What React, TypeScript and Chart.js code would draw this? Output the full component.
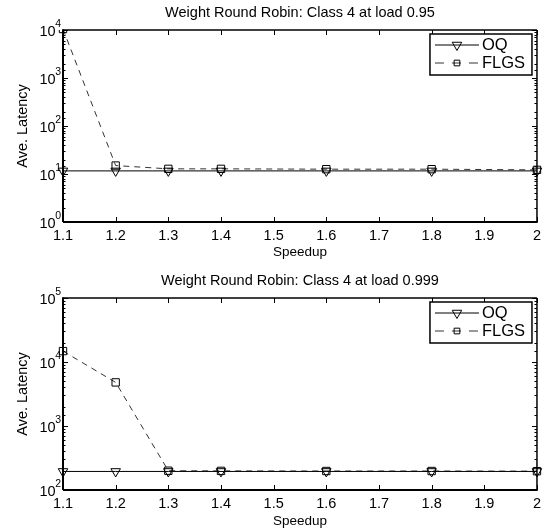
import React, { useEffect, useRef } from 'react';
import { Chart, registerables } from 'chart.js';

Chart.register(...registerables);

// ---------------- data ----------------
const speedup = [1.1, 1.2, 1.3, 1.4, 1.6, 1.8, 2.0];
const oqLoad095 = [11.6, 11.6, 11.6, 11.6, 11.6, 11.6, 11.6];
const flgsLoad095 = [10500, 15, 12.8, 12.8, 12.6, 12.6, 12.2];
const oqLoad0999 = [195, 195, 195, 195, 195, 195, 195];
const flgsLoad0999 = [14800, 4800, 200, 199, 198, 198, 197];
const seriesNames = ['OQ', 'FLGS'];
const panelTitles = [
  'Weight Round Robin: Class 4 at load 0.95',
  'Weight Round Robin: Class 4 at load 0.999',
];
const xAxisTitle = 'Speedup';
const yAxisTitle = 'Ave. Latency';
const xMin = 1.1;
const xMax = 2;
const xStep = 0.1;
const yMinTop = 1;
const yMaxTop = 1e4;
const yMinBottom = 1e2;
const yMaxBottom = 1e5;

const FONT = '"Liberation Sans", Arial, Helvetica, sans-serif';
const TITLE_SIZE = 14.5;
const XTITLE_SIZE = 13.5;
const YTITLE_SIZE = 14.5;
const TICK_SIZE = 14.5;
const EXP_SIZE = 10.5;
const LEGEND_SIZE = 16.5;

type PanelSpec = {
  top: number;
  height: number;
  axesTop: number;
  axesBottom: number;
  titleY: number;
  xTitleY: number;
  title: string;
  oq: number[];
  flgs: number[];
  yMin: number;
  yMax: number;
};

const panels: PanelSpec[] = [
  {
    top: 0, height: 264, axesTop: 30, axesBottom: 222, titleY: 13, xTitleY: 252.7,
    title: panelTitles[0], oq: oqLoad095, flgs: flgsLoad095, yMin: yMinTop, yMax: yMaxTop,
  },
  {
    top: 264, height: 265, axesTop: 34, axesBottom: 226, titleY: 17, xTitleY: 257,
    title: panelTitles[1], oq: oqLoad0999, flgs: flgsLoad0999, yMin: yMinBottom, yMax: yMaxBottom,
  },
];

function isDecade(v: number) {
  const l = Math.log10(v);
  return Math.abs(l - Math.round(l)) < 1e-9;
}

function drawMarker(ctx: CanvasRenderingContext2D, kind: string, x: number, y: number, r: number) {
  ctx.beginPath();
  if (kind === 'triangle') {
    ctx.moveTo(x - r * 0.866, y - r * 0.5);
    ctx.lineTo(x + r * 0.866, y - r * 0.5);
    ctx.lineTo(x, y + r);
    ctx.closePath();
  } else {
    const s = r * 0.7071;
    ctx.rect(x - s, y - s, 2 * s, 2 * s);
  }
  ctx.stroke();
}

// MATLAB-like box, inward ticks and 10^n tick labels with real superscripts
const axesPlugin = {
  id: 'matlabAxes',
  afterDraw(chart: any) {
    const { ctx, chartArea, scales } = chart;
    const { left, right, top, bottom } = chartArea;
    const x = scales.x;
    const y = scales.y;
    ctx.save();
    ctx.strokeStyle = '#000';
    ctx.lineWidth = 1;
    ctx.setLineDash([]);
    const seg = (x1: number, y1: number, x2: number, y2: number) => {
      ctx.beginPath();
      ctx.moveTo(x1, y1);
      ctx.lineTo(x2, y2);
      ctx.stroke();
    };
    for (const t of x.ticks) {
      const px = Math.round(x.getPixelForValue(t.value)) + 0.5;
      seg(px, bottom, px, bottom - 5);
      seg(px, top, px, top + 5);
    }
    ctx.fillStyle = '#000';
    ctx.textBaseline = 'middle';
    for (const t of y.ticks) {
      const py = Math.round(y.getPixelForValue(t.value)) + 0.5;
      const major = isDecade(t.value);
      const len = major ? 5 : 2.5;
      seg(left, py, left + len, py);
      seg(right, py, right - len, py);
      if (major) {
        const e = String(Math.round(Math.log10(t.value)));
        ctx.font = `${EXP_SIZE}px ${FONT}`;
        const ew = ctx.measureText(e).width;
        const expX = left - 2 - ew;
        ctx.textAlign = 'left';
        ctx.fillText(e, expX, py - 6);
        ctx.font = `${TICK_SIZE}px ${FONT}`;
        ctx.textAlign = 'right';
        ctx.fillText('10', expX + 0.5, py + 1.5);
      }
    }
    ctx.lineWidth = 1.5;
    seg(left, top, right, top);
    seg(right, top, right, bottom);
    ctx.lineWidth = 2;
    seg(left, bottom, right + 0.75, bottom);
    seg(left, top - 0.75, left, bottom);
    ctx.restore();
  },
};

const legendPlugin = {
  id: 'matlabLegend',
  afterDraw(chart: any) {
    const { ctx, chartArea } = chart;
    const bw = 102;
    const bh = 41;
    const bx = chartArea.right - 107;
    const by = chartArea.top + 4;
    ctx.save();
    ctx.fillStyle = '#fff';
    ctx.fillRect(bx, by, bw, bh);
    ctx.strokeStyle = '#000';
    ctx.lineWidth = 1.5;
    ctx.strokeRect(bx, by, bw, bh);
    chart.data.datasets.forEach((ds: any, i: number) => {
      const yy = by + 11 + i * 18;
      ctx.strokeStyle = ds.borderColor;
      ctx.lineWidth = 1;
      ctx.setLineDash(ds.borderDash && ds.borderDash.length ? [9, 8] : []);
      ctx.beginPath();
      ctx.moveTo(bx + 5, yy);
      ctx.lineTo(bx + 49, yy);
      ctx.stroke();
      ctx.setLineDash([]);
      ctx.strokeStyle = '#000';
      drawMarker(ctx, ds.pointStyle === 'triangle' ? 'triangle' : 'rect', bx + 27, yy, ds.pointStyle === 'triangle' ? 5.5 : 4);
      ctx.fillStyle = '#000';
      ctx.font = `${LEGEND_SIZE}px ${FONT}`;
      ctx.textBaseline = 'middle';
      ctx.textAlign = 'left';
      ctx.fillText(ds.label, bx + 52, yy + 0.5);
    });
    ctx.restore();
  },
};

function Panel({ spec }: { spec: PanelSpec }) {
  const ref = useRef<HTMLCanvasElement | null>(null);
  useEffect(() => {
    if (!ref.current) return;
    const tlh = TITLE_SIZE * 1.2;
    const titlePadTop = spec.titleY - tlh / 2;
    const titlePadBottom = spec.axesTop - spec.titleY - tlh / 2;
    const xScaleHeight = spec.height - spec.axesBottom;
    const xlh = XTITLE_SIZE * 1.2;
    const xTitlePadBottom = spec.height - spec.xTitleY - xlh / 2;
    const ylh = YTITLE_SIZE * 1.2;
    const yTitlePadTop = 23 - ylh / 2;
    const chart = new Chart(ref.current, {
      type: 'line',
      data: {
        datasets: [
          {
            label: seriesNames[0],
            data: speedup.map((s, i) => ({ x: s, y: spec.oq[i] })),
            borderColor: '#000',
            borderWidth: 1,
            pointStyle: 'triangle',
            pointRotation: 180,
            pointRadius: 5.5,
            pointBorderWidth: 1,
            pointBorderColor: '#000',
            pointBackgroundColor: 'rgba(0,0,0,0)',
            tension: 0,
            clip: { left: 8, right: 8, top: 0, bottom: 8 },
          },
          {
            label: seriesNames[1],
            data: speedup.map((s, i) => ({ x: s, y: spec.flgs[i] })),
            borderColor: '#333',
            borderWidth: 1,
            borderDash: [6, 5],
            pointStyle: 'rect',
            pointRadius: 5.2,
            pointBorderWidth: 1,
            pointBorderColor: '#000',
            pointBackgroundColor: 'rgba(0,0,0,0)',
            tension: 0,
            clip: { left: 8, right: 8, top: 0, bottom: 8 },
          },
        ] as any,
      },
      options: {
        animation: false,
        responsive: false,
        devicePixelRatio: 1,
        layout: { padding: { left: 0, right: 6, top: 0, bottom: 0 } },
        plugins: {
          legend: { display: false },
          tooltip: { enabled: false },
          title: {
            display: true,
            text: spec.title,
            fullSize: false,
            color: '#000',
            font: { family: FONT, size: TITLE_SIZE, weight: 'normal', lineHeight: 1.2 },
            padding: { top: titlePadTop, bottom: titlePadBottom },
          },
        },
        scales: {
          x: {
            type: 'linear',
            min: xMin,
            max: xMax,
            grid: { display: false, drawTicks: false },
            border: { display: false },
            ticks: {
              stepSize: xStep,
              autoSkip: false,
              maxRotation: 0,
              padding: 5,
              color: '#000',
              font: { family: FONT, size: TICK_SIZE, lineHeight: 1.2 },
              callback: (v: any) => String(Math.round(Number(v) * 10) / 10),
            },
            title: {
              display: true,
              text: xAxisTitle,
              color: '#000',
              font: { family: FONT, size: XTITLE_SIZE, lineHeight: 1.2 },
              padding: { top: 0, bottom: xTitlePadBottom },
            },
            afterFit: (scale: any) => {
              scale.height = xScaleHeight;
            },
          },
          y: {
            type: 'logarithmic',
            min: spec.yMin,
            max: spec.yMax,
            grid: { display: false, drawTicks: false },
            border: { display: false },
            ticks: {
              autoSkip: false,
              display: false,
            },
            title: {
              display: true,
              text: yAxisTitle,
              color: '#000',
              font: { family: FONT, size: YTITLE_SIZE, lineHeight: 1.2 },
              padding: { top: yTitlePadTop, bottom: 0 },
            },
            afterFit: (scale: any) => {
              scale.width = 63;
            },
          },
        },
      } as any,
      plugins: [axesPlugin, legendPlugin],
    });
    return () => chart.destroy();
  }, [spec]);
  return (
    <canvas
      ref={ref}
      width={546}
      height={spec.height}
      style={{ position: 'absolute', left: 0, top: spec.top, width: 546, height: spec.height, display: 'block' }}
    />
  );
}

export default function App() {
  return (
    <div style={{ position: 'absolute', left: 0, top: 0, width: 546, height: 529, background: '#fff' }}>
      {panels.map((p, i) => (
        <Panel key={i} spec={p} />
      ))}
    </div>
  );
}
